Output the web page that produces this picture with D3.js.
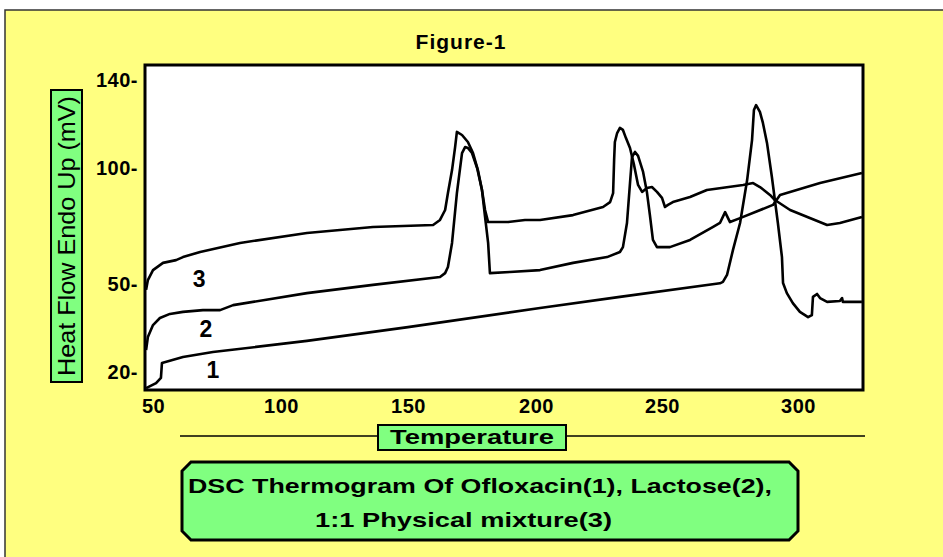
<!DOCTYPE html>
<html>
<head>
<meta charset="utf-8">
<script src="https://cdn.jsdelivr.net/npm/d3@7"></script>
<style>
body { margin: 0; background: #fff; }
svg text { font-family: "Liberation Sans", Arial, sans-serif; }
</style>
</head>
<body>
<svg id="chart" width="943" height="557"></svg>
<script>
// values (temperature, heat flow mV)
var ofloxacinT = [47.3, 51.2, 53.1, 53.5, 61.7, 73.4, 110.2, 150.0, 201.6, 233.3, 271.3, 272.4, 273.9, 276.1, 278.7, 281.3, 283.1, 283.8, 284.6, 286.0, 287.1, 288.6, 290.4, 291.5, 292.6, 294.1, 294.5, 295.9, 298.1, 300.7, 303.7, 305.1, 305.5, 307.0, 308.1, 310.7, 315.4, 316.2, 316.5, 323.5];
var ofloxacinHF = [14.5, 16.2, 18.0, 23.1, 25.1, 26.8, 30.6, 35.3, 41.8, 45.6, 50.3, 50.9, 53.9, 64.7, 76.3, 94.8, 112.7, 126.4, 128.6, 125.5, 120.5, 111.4, 96.1, 86.2, 76.3, 61.6, 50.4, 46.9, 43.5, 40.5, 38.7, 39.4, 45.6, 46.6, 45.2, 43.9, 44.2, 45.2, 43.9, 43.9];

var lactoseT = [47.3, 48.0, 50.0, 52.7, 56.6, 61.7, 69.5, 76.2, 81.3, 110.2, 136.2, 162.5, 164.5, 165.6, 167.2, 169.1, 171.1, 172.3, 173.4, 175.0, 177.0, 178.9, 180.1, 181.3, 182.0, 189.8, 201.6, 214.7, 228.2, 233.3, 234.5, 236.1, 237.3, 238.1, 239.3, 240.5, 242.5, 244.0, 245.2, 246.4, 248.0, 252.9, 260.3, 268.8, 271.3, 273.2, 275.0, 278.7, 290.8, 293.4, 308.1, 323.5];
var lactoseHF = [27.5, 31.9, 36.0, 38.4, 39.8, 40.5, 41.1, 41.1, 42.8, 46.9, 49.7, 53.0, 54.7, 57.3, 67.7, 89.2, 106.8, 109.5, 109.1, 106.8, 100.0, 90.5, 78.9, 67.7, 54.7, 55.2, 56.0, 59.1, 61.6, 63.8, 65.9, 76.3, 93.5, 105.0, 107.3, 105.5, 98.3, 89.7, 79.7, 69.0, 65.9, 65.9, 69.0, 74.6, 76.3, 81.0, 76.7, 78.4, 84.1, 88.4, 93.5, 97.8];

var mixtureT = [47.3, 48.0, 50.0, 53.9, 59.0, 61.7, 68.4, 84.0, 110.2, 136.2, 159.8, 162.5, 164.5, 165.6, 167.2, 168.4, 169.1, 171.1, 173.4, 175.4, 177.3, 178.9, 180.1, 181.3, 189.1, 195.7, 201.6, 214.7, 226.6, 229.4, 230.6, 231.0, 231.3, 232.2, 233.3, 234.5, 235.7, 237.3, 238.9, 240.5, 242.1, 244.0, 246.0, 248.0, 250.0, 251.1, 252.2, 254.0, 260.3, 266.5, 279.8, 283.5, 286.0, 289.7, 291.5, 297.1, 310.7, 315.4, 323.5];
var mixtureHF = [48.0, 51.7, 56.0, 59.1, 60.3, 61.6, 63.8, 67.7, 72.0, 74.6, 75.4, 77.6, 81.9, 89.2, 99.1, 109.5, 116.4, 115.0, 111.8, 106.8, 99.1, 90.5, 81.9, 76.7, 76.7, 77.6, 77.6, 79.7, 83.2, 85.3, 89.2, 103.6, 111.8, 115.9, 118.2, 117.3, 113.6, 109.1, 101.4, 92.7, 89.7, 91.4, 91.8, 89.7, 87.1, 83.2, 84.1, 85.3, 87.5, 90.5, 92.7, 93.5, 91.8, 88.4, 86.2, 81.9, 75.4, 76.3, 78.9];

var xTicks = [50, 100, 150, 200, 250, 300];
var yTicks = [20, 50, 100, 140];
var curveLabels = ["1", "2", "3"];
var labelT = [73.4, 70.7, 68.0];
var labelHF = [20.7, 34.7, 52.0];

var yellow = "#ffff80";
var green = "#80ff80";

var svg = d3.select("#chart");

// yellow panel
svg.append("rect")
  .attr("x", 5).attr("y", 10)
  .attr("width", 960).attr("height", 570)
  .attr("fill", yellow)
  .attr("stroke", "#333").attr("stroke-width", 1.5);

svg.append("text")
  .attr("x", 461).attr("y", 49)
  .attr("text-anchor", "middle")
  .attr("font-size", 21).attr("font-weight", "bold")
  .attr("letter-spacing", 1)
  .text("Figure-1");

// the tick labels of the original are not evenly spaced, so piecewise scales
var x = d3.scaleLinear().domain(xTicks).range([153, 281, 408, 536, 662, 798]);
var y = d3.scaleLinear().domain(yTicks).range([372, 284, 168, 80]);

var plot = {left: 145, top: 65, right: 863, bottom: 390};

svg.append("rect")
  .attr("x", plot.left).attr("y", plot.top)
  .attr("width", plot.right - plot.left).attr("height", plot.bottom - plot.top)
  .attr("fill", "#fff");

svg.append("clipPath").attr("id", "clip")
  .append("rect")
  .attr("x", plot.left).attr("y", plot.top)
  .attr("width", plot.right - plot.left).attr("height", plot.bottom - plot.top);

var line = d3.line()
  .x(function(d) { return x(d[0]); })
  .y(function(d) { return y(d[1]); });

var series = [
  d3.zip(ofloxacinT, ofloxacinHF),
  d3.zip(lactoseT, lactoseHF),
  d3.zip(mixtureT, mixtureHF)
];

svg.append("g").attr("clip-path", "url(#clip)")
  .selectAll("path")
  .data(series)
  .enter().append("path")
  .attr("d", line)
  .attr("fill", "none")
  .attr("stroke", "#000")
  .attr("stroke-width", 2.6)
  .attr("stroke-linejoin", "round");

svg.selectAll(".curve-label")
  .data(curveLabels)
  .enter().append("text")
  .attr("class", "curve-label")
  .attr("x", function(d, i) { return x(labelT[i]); })
  .attr("y", function(d, i) { return y(labelHF[i]); })
  .attr("text-anchor", "middle")
  .attr("dominant-baseline", "central")
  .attr("font-size", 23).attr("font-weight", "bold")
  .text(function(d) { return d; });

// frame
svg.append("rect")
  .attr("x", plot.left).attr("y", plot.top)
  .attr("width", plot.right - plot.left).attr("height", plot.bottom - plot.top)
  .attr("fill", "none")
  .attr("stroke", "#000").attr("stroke-width", 3);

// axes (labels only, no tick marks)
var xAxis = svg.append("g")
  .attr("transform", "translate(0," + (plot.bottom + 2) + ")")
  .call(d3.axisBottom(x).tickValues(xTicks).tickSize(0).tickPadding(7).tickFormat(d3.format("d")));
xAxis.select(".domain").remove();
xAxis.selectAll("text")
  .attr("font-size", 20).attr("font-weight", "bold")
  .attr("font-family", "Liberation Sans, Arial, sans-serif")
  .attr("letter-spacing", 0.5)
  .attr("fill", "#000");

var yAxis = svg.append("g")
  .attr("transform", "translate(" + (plot.left - 1) + ",0)")
  .call(d3.axisLeft(y).tickValues(yTicks).tickSize(0).tickPadding(6).tickFormat(function(d) { return d + "-"; }));
yAxis.select(".domain").remove();
yAxis.selectAll("text")
  .attr("font-size", 20).attr("font-weight", "bold")
  .attr("font-family", "Liberation Sans, Arial, sans-serif")
  .attr("letter-spacing", 0.5)
  .attr("fill", "#000");

// y title box
svg.append("rect")
  .attr("x", 51).attr("y", 90).attr("width", 31).attr("height", 292)
  .attr("fill", green).attr("stroke", "#000").attr("stroke-width", 2);
svg.append("text")
  .attr("transform", "translate(75,236) rotate(-90)")
  .attr("text-anchor", "middle")
  .attr("font-size", 24)
  .attr("textLength", 280).attr("lengthAdjust", "spacingAndGlyphs")
  .text("Heat Flow Endo Up (mV)");

// x title with rule
svg.append("line")
  .attr("x1", 180).attr("x2", 865).attr("y1", 436).attr("y2", 436)
  .attr("stroke", "#000").attr("stroke-width", 1.5);
svg.append("rect")
  .attr("x", 378).attr("y", 425).attr("width", 188).attr("height", 25)
  .attr("fill", green).attr("stroke", "#000").attr("stroke-width", 2);
svg.append("text")
  .attr("x", 472).attr("y", 444)
  .attr("text-anchor", "middle")
  .attr("font-size", 20).attr("font-weight", "bold")
  .attr("textLength", 164).attr("lengthAdjust", "spacingAndGlyphs")
  .text("Temperature");

// caption box with clipped corners
var bx0 = 182, bx1 = 798, by0 = 462, by1 = 540, c = 9;
svg.append("path")
  .attr("d", "M" + (bx0 + c) + "," + by0 + "H" + (bx1 - c) + "L" + bx1 + "," + (by0 + c) +
    "V" + (by1 - c) + "L" + (bx1 - c) + "," + by1 + "H" + (bx0 + c) + "L" + bx0 + "," + (by1 - c) +
    "V" + (by0 + c) + "Z")
  .attr("fill", green).attr("stroke", "#000").attr("stroke-width", 3);

svg.append("text")
  .attr("x", 188).attr("y", 493)
  .attr("font-size", 21).attr("font-weight", "bold")
  .attr("textLength", 584).attr("lengthAdjust", "spacingAndGlyphs")
  .text("DSC Thermogram Of Ofloxacin(1), Lactose(2),");
svg.append("text")
  .attr("x", 315).attr("y", 527)
  .attr("font-size", 21).attr("font-weight", "bold")
  .attr("textLength", 297).attr("lengthAdjust", "spacingAndGlyphs")
  .text("1:1 Physical mixture(3)");
</script>
</body>
</html>
